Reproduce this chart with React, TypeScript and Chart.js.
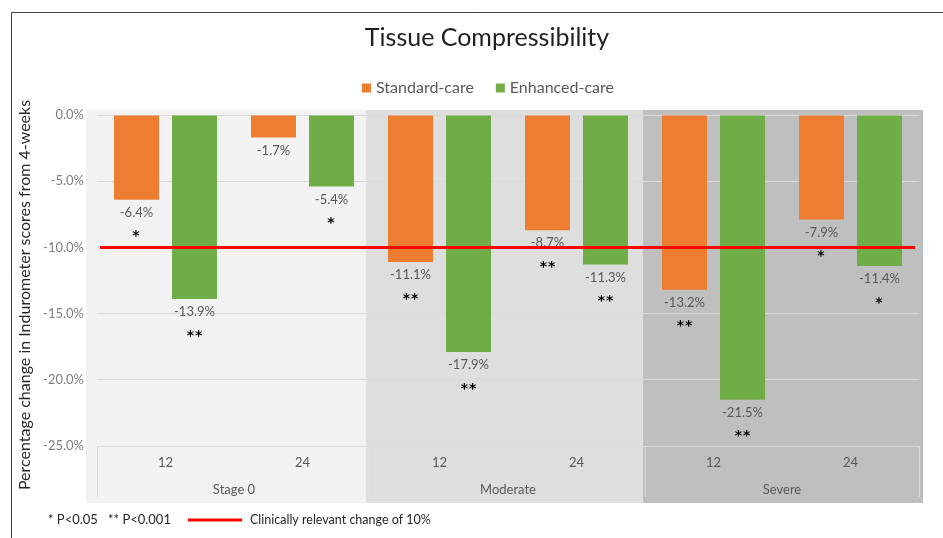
import React, { useEffect, useRef } from 'react';
import { Chart, registerables } from 'chart.js';

Chart.register(...registerables);

// ---------- data ----------
const categories = ['12', '24', '12', '24', '12', '24'];
const groups = ['Stage 0', 'Moderate', 'Severe'];
const seriesNames = ['Standard-care', 'Enhanced-care'];
const standardCare = [-6.4, -1.7, -11.1, -8.7, -13.2, -7.9];
const enhancedCare = [-13.9, -5.4, -17.9, -11.3, -21.5, -11.4];
const standardSig = ['*', '', '**', '**', '**', '*'];
const enhancedSig = ['**', '*', '**', '**', '**', '*'];
const threshold = -10;
const yMin = -25;
const yMax = 0;
const yStep = 5;
const chartTitle = 'Tissue Compressibility';
const yTitle = 'Percentage change in Indurometer scores from 4-weeks';
const sigNotes = ['* P<0.05', '** P<0.001'];
const thresholdLabel = 'Clinically relevant change of 10%';

// ---------- styles ----------
const FONT = 'Lato';
const ORANGE = '#ED7D31';
const GREEN = '#70AD47';
const RED = '#FF0000';
const PANEL_COLORS = ['#F2F2F2', '#DEDEDE', '#BFBFBF'];
const GRID = '#D9D9D9';
const TEXT_GRAY = '#595959';

const sigs = [standardSig, enhancedSig];
const values = [standardCare, enhancedCare];

const decorPlugin = {
  id: 'decor',
  beforeDraw(chart: any) {
    const { ctx, chartArea: a, width, height } = chart;
    const xs = chart.scales.x;
    ctx.save();
    ctx.fillStyle = '#FFFFFF';
    ctx.fillRect(0, 0, width, height);
    // frame
    ctx.strokeStyle = '#404040';
    ctx.lineWidth = 1;
    ctx.beginPath();
    ctx.moveTo(11.5, height);
    ctx.lineTo(11.5, 12.5);
    ctx.lineTo(width, 12.5);
    ctx.stroke();
    // group panels
    const half = (xs.getPixelForValue(1) - xs.getPixelForValue(0)) / 2;
    const edges: number[] = [];
    for (let g = 0; g <= groups.length; g++) {
      edges.push(g < groups.length ? xs.getPixelForValue(2 * g) - half : xs.getPixelForValue(2 * g - 1) + half);
    }
    const shift = [-11, -5, -2, 4];
    const pEdges = edges.map((e, i) => e + shift[i]);
    for (let g = 0; g < groups.length; g++) {
      ctx.fillStyle = PANEL_COLORS[g];
      ctx.fillRect(pEdges[g], a.top - 5, pEdges[g + 1] - pEdges[g], a.bottom - a.top + 62);
    }
    // category axis box separators
    ctx.strokeStyle = GRID;
    ctx.beginPath();
    edges.forEach((e) => {
      const x = Math.round(e) + 0.5;
      ctx.moveTo(x, a.bottom);
      ctx.lineTo(x, a.bottom + 51);
    });
    ctx.stroke();
    ctx.restore();
  },
  afterDatasetDraw(chart: any, args: any) {
    const i = args.index;
    if (i > 1) return;
    const { ctx } = chart;
    const meta = chart.getDatasetMeta(i);
    ctx.save();
    ctx.textAlign = 'center';
    ctx.textBaseline = 'middle';
    meta.data.forEach((bar: any, j: number) => {
      const { x, y } = bar.getProps(['x', 'y'], true);
      ctx.fillStyle = TEXT_GRAY;
      ctx.font = `13px ${FONT}`;
      ctx.fillText(values[i][j].toFixed(1) + '%', x, y + 13);
      const s = sigs[i][j];
      if (s) {
        ctx.fillStyle = '#000000';
        ctx.font = `bold 14px "DejaVu Sans"`;
        (ctx as any).letterSpacing = '1px';
        ctx.fillText(s, x + (s.length > 1 ? 0.5 : 0), y + 37);
        (ctx as any).letterSpacing = '0px';
      }
    });
    ctx.restore();
  },
  afterDatasetsDraw(chart: any) {
    // clinically relevant threshold line, positioned through the y scale
    const { ctx, chartArea: a } = chart;
    const y = chart.scales.y.getPixelForValue(threshold);
    ctx.save();
    ctx.strokeStyle = RED;
    ctx.lineWidth = 3;
    ctx.beginPath();
    ctx.moveTo(a.left + 3, y);
    ctx.lineTo(a.right - 4, y);
    ctx.stroke();
    ctx.restore();
  },
  afterDraw(chart: any) {
    const { ctx } = chart;
    ctx.save();
    // title
    ctx.fillStyle = '#1F1F1F';
    ctx.font = `25px ${FONT}`;
    ctx.textAlign = 'center';
    ctx.textBaseline = 'alphabetic';
    ctx.fillText(chartTitle, 487, 46);
    // legend
    ctx.font = `16px ${FONT}`;
    ctx.textAlign = 'left';
    ctx.textBaseline = 'middle';
    const colors = [ORANGE, GREEN];
    const gap = 22;
    const box = 9;
    const widths = seriesNames.map((n) => box + 5 + ctx.measureText(n).width);
    const total = widths.reduce((s, w) => s + w, 0) + gap;
    let lx = 488 - total / 2;
    seriesNames.forEach((n, k) => {
      ctx.fillStyle = colors[k];
      ctx.fillRect(lx, 88 - box / 2, box, box);
      ctx.fillStyle = TEXT_GRAY;
      ctx.fillText(n, lx + box + 5, 88);
      lx += widths[k] + gap;
    });
    // y title
    ctx.save();
    ctx.translate(25, 295);
    ctx.rotate(-Math.PI / 2);
    ctx.textAlign = 'center';
    ctx.fillStyle = '#262626';
    ctx.font = `16px ${FONT}`;
    ctx.fillText(yTitle, 0, 0);
    ctx.restore();
    // footer
    ctx.fillStyle = '#262626';
    ctx.font = `13px ${FONT}`;
    ctx.textAlign = 'left';
    ctx.textBaseline = 'middle';
    ctx.fillText(sigNotes[0], 48, 520);
    ctx.fillText(sigNotes[1], 108, 520);
    ctx.strokeStyle = RED;
    ctx.lineWidth = 3;
    ctx.beginPath();
    ctx.moveTo(188, 520);
    ctx.lineTo(242, 520);
    ctx.stroke();
    ctx.font = `12.5px ${FONT}`;
    ctx.fillText(thresholdLabel, 250, 520);
    ctx.restore();
  },
};

export default function App() {
  const ref = useRef<HTMLCanvasElement | null>(null);
  useEffect(() => {
    document.body.style.margin = '0';
    const canvas = ref.current;
    if (!canvas) return;
    const chart = new Chart(canvas, {
      type: 'bar',
      data: {
        labels: categories,
        datasets: [
          {
            label: seriesNames[0],
            data: standardCare,
            backgroundColor: ORANGE,
            categoryPercentage: 0.847,
            barPercentage: 0.776,
          },
          {
            label: seriesNames[1],
            data: enhancedCare,
            backgroundColor: GREEN,
            categoryPercentage: 0.847,
            barPercentage: 0.776,
          },
        ],
      },
      options: {
        animation: false,
        responsive: false,
        devicePixelRatio: 1,
        events: [],
        layout: { padding: { left: 0, right: 24, top: 115, bottom: 40 } },
        plugins: {
          legend: { display: false },
          title: { display: false },
          tooltip: { enabled: false },
        },
        scales: {
          x: {
            type: 'category',
            position: 'bottom',
            weight: 0,
            offset: true,
            afterFit: (s: any) => {
              s.height = 31;
            },
            grid: { display: false, drawTicks: false },
            border: { display: false },
            ticks: { color: TEXT_GRAY, font: { family: FONT, size: 13 }, padding: 9, maxRotation: 0 },
          },
          xg: {
            type: 'category',
            labels: groups,
            position: 'bottom',
            weight: 1,
            offset: true,
            afterFit: (s: any) => {
              s.height = 21;
            },
            grid: { display: false, drawTicks: false },
            border: { display: false },
            ticks: { color: TEXT_GRAY, font: { family: FONT, size: 13 }, padding: 5, maxRotation: 0 },
          },
          y: {
            type: 'linear',
            min: yMin,
            max: yMax,
            afterFit: (s: any) => {
              s.width = 97;
            },
            grid: { color: GRID, drawTicks: false, lineWidth: 1 },
            border: { display: false },
            ticks: {
              stepSize: yStep,
              color: '#7F7F7F',
              padding: 13,
              font: { family: FONT, size: 13 },
              callback: (v: any) => Number(v).toFixed(1) + '%',
            },
          },
        } as any,
      },
      plugins: [decorPlugin as any],
    });
    return () => chart.destroy();
  }, []);
  return <canvas ref={ref} width={943} height={538} style={{ display: 'block', width: 943, height: 538 }} />;
}
